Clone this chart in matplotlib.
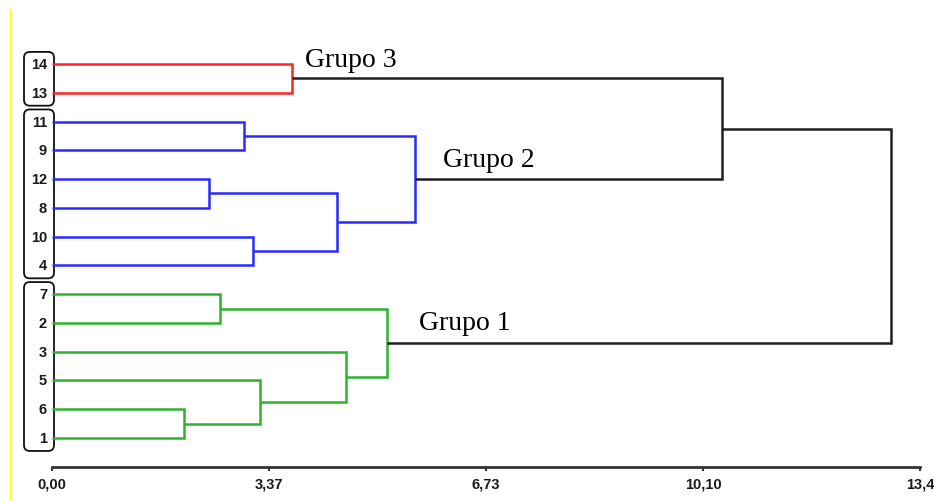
import matplotlib
matplotlib.use("Agg")
import matplotlib.pyplot as plt
from matplotlib.patches import FancyBboxPatch
from matplotlib.lines import Line2D

# leaves from bottom to top, as they appear on the chart
leaves = ["1", "6", "5", "3", "2", "7", "4", "10", "8", "12", "9", "11", "13", "14"]

# agglomeration steps: node k gets the name "c<k>"
merge_left = ["14", "11", "12", "10", "c2", "c1", "c0", "7", "6", "5", "3", "c7", "c6"]
merge_right = ["13", "9", "8", "4", "c3", "c4", "c5", "2", "1", "c8", "c9", "c10", "c11"]
merge_height = [3.72, 2.98, 2.44, 3.12, 4.42, 5.63, 10.40, 2.61, 2.05, 3.23, 4.56, 5.20, 13.02]
merge_group = ["3", "2", "2", "2", "2", "2", "all", "1", "1", "1", "1", "1", "all"]

# groups and the leaves each one frames
group_names = ["Grupo 3", "Grupo 2", "Grupo 1"]
group_leaves = [["14", "13"], ["11", "9", "12", "8", "10", "4"], ["7", "2", "3", "5", "6", "1"]]

tick_values = [0.0, 3.3667, 6.7333, 10.10, 13.4667]
tick_labels = ["0,00", "3,37", "6,73", "10,10", "13,4"]

colors = {"3": "#ff2424", "2": "#2a2aff", "1": "#2db42d", "all": "#1e1e1e"}

# pixel -> data scale of the picture
px_x = 64.45
px_y = 28.77

fig = plt.figure(figsize=(9.34, 5.02), dpi=100)
ax = fig.add_axes([0, 0, 1, 1])
ax.set_xlim(-52 / px_x, (934 - 52) / px_x)
ax.set_ylim((439 - 502) / px_y, 439 / px_y)

# node positions (y) and heights (x)
ypos = {name: i for i, name in enumerate(leaves)}
hpos = {name: 0.0 for name in leaves}

for k in range(len(merge_left)):
    a, b, h = merge_left[k], merge_right[k], merge_height[k]
    ax.plot([hpos[a], h, h, hpos[b]], [ypos[a], ypos[a], ypos[b], ypos[b]],
            color=colors[merge_group[k]], lw=1.8,
            solid_joinstyle="miter", solid_capstyle="butt")
    name = f"c{k}"
    ypos[name] = (ypos[a] + ypos[b]) / 2
    hpos[name] = h

# leaf labels
for name in leaves:
    ax.text(-5 / px_x, ypos[name], name, ha="right", va="center",
            fontsize=10.5, fontweight="bold", family="Liberation Sans", color="#1a1a1a")

# rounded frames around the groups
for members in group_leaves:
    ys = [ypos[m] for m in members]
    top, bottom = max(ys) + 0.42, min(ys) - 0.45
    box = FancyBboxPatch((-28 / px_x, bottom), 30 / px_x, top - bottom,
                         boxstyle="round,pad=0,rounding_size=0.09",
                         mutation_aspect=px_x / px_y,
                         fill=False, ec="#111111", lw=1.3)
    ax.add_patch(box)

# group titles
ax.text(3.93, 12.93, group_names[0], fontsize=20, family="Liberation Serif", va="baseline")
ax.text(6.07, 9.45, group_names[1], fontsize=20, family="Liberation Serif", va="baseline")
ax.text(5.69, 3.79, group_names[2], fontsize=20, family="Liberation Serif", va="baseline")

# distance axis
for side in ["top", "right", "left"]:
    ax.spines[side].set_visible(False)
ax.spines["bottom"].set_position(("data", -1.0))
ax.spines["bottom"].set_bounds(tick_values[0], tick_values[-1])
ax.spines["bottom"].set_linewidth(2)
ax.spines["bottom"].set_color("#333333")
ax.set_xticks(tick_values)
ax.set_xticklabels(tick_labels, fontsize=10.5, fontweight="bold", family="Liberation Sans", color="#1a1a1a")
ax.tick_params(axis="x", direction="out", length=3, width=1.5, color="#333333", pad=4)
ax.set_yticks([])
ax.patch.set_alpha(0)

# thin yellow rule at the left edge of the picture
fig.add_artist(Line2D([9.5 / 934, 9.5 / 934], [0, 1 - 10 / 502],
                      transform=fig.transFigure, color="#ffff00", lw=1))

fig.savefig("out.png", dpi=100, facecolor="white")
